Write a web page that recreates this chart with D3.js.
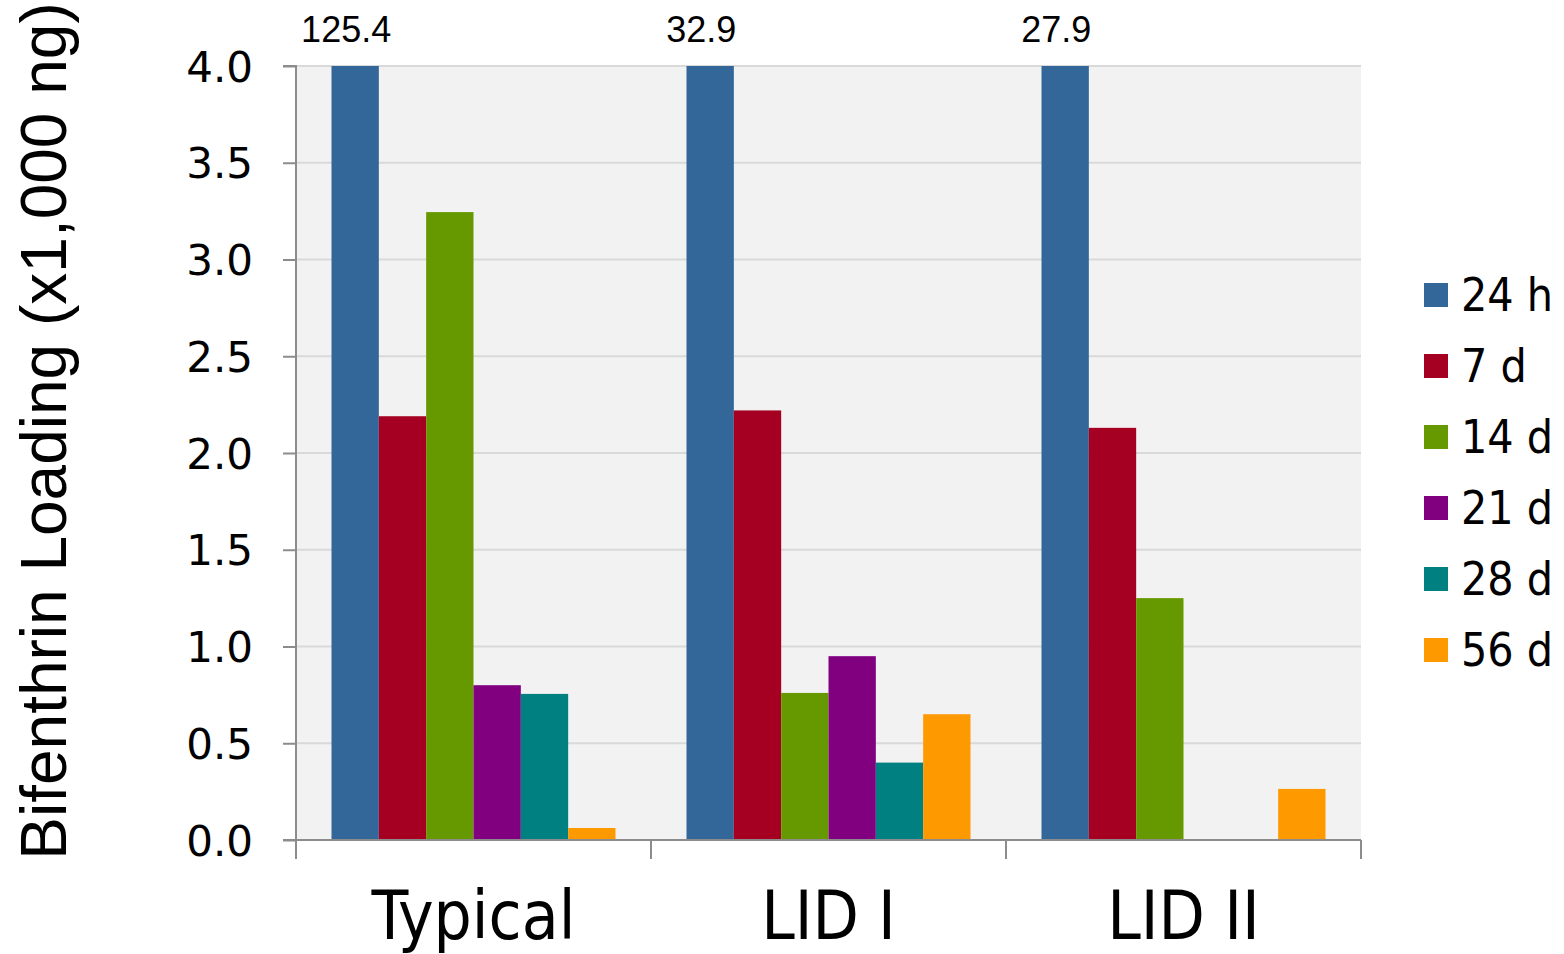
<!DOCTYPE html>
<html><head><meta charset="utf-8">
<script src="https://cdn.jsdelivr.net/npm/d3@7"></script>
<style>body{margin:0;background:#fff;}svg{display:block;}</style>
</head><body>
<svg id="chart" width="1564" height="954"></svg>
<script>
const categories = ["Typical", "LID I", "LID II"];
const series = ["24 h", "7 d", "14 d", "21 d", "28 d", "56 d"];
const colors = ["#336699", "#a50021", "#669900", "#800080", "#008080", "#ff9900"];
// values in x1,000 ng, per category, in series order (null = no bar)
const typicalValues = [125.4, 2.19, 3.245, 0.80, 0.755, 0.062];
const lid1Values   = [32.9, 2.22, 0.76, 0.95, 0.40, 0.65];
const lid2Values   = [27.9, 2.13, 1.25, null, null, 0.264];
const yTicks = [0, 0.5, 1, 1.5, 2, 2.5, 3, 3.5, 4];
const yMax = 4.0;
const yLabel = "Bifenthrin Loading (x1,000 ng)";

const values = [typicalValues, lid1Values, lid2Values];
const svg = d3.select("#chart");
const L = 296, R = 1361, T = 66, B = 840;

const x0 = d3.scaleBand().domain(categories).range([L, R]).paddingInner(0).paddingOuter(0);
const x1 = d3.scaleBand().domain(series).range([35.5, x0.bandwidth() - 35.5]).padding(0);
const y = d3.scaleLinear().domain([0, yMax]).range([B, T]);

// plot background
svg.append("rect").attr("x", L).attr("y", T).attr("width", R - L).attr("height", B - T).attr("fill", "#f2f2f2");
// gridlines
svg.append("g").selectAll("line").data(yTicks.filter(d => d > 0)).join("line")
  .attr("x1", L).attr("x2", R).attr("y1", d => y(d)).attr("y2", d => y(d))
  .attr("stroke", "#d9d9d9").attr("stroke-width", 2);

// bars
const groups = svg.append("g").selectAll("g").data(categories).join("g")
  .attr("transform", d => `translate(${x0(d)},0)`);
groups.each(function(cat, ci) {
  const g = d3.select(this);
  const data = series.map((s, si) => ({s, si, v: values[ci][si]})).filter(d => d.v != null);
  g.selectAll("rect").data(data).join("rect")
    .attr("x", d => x1(d.s)).attr("width", x1.bandwidth())
    .attr("y", d => y(Math.min(d.v, yMax))).attr("height", d => B - y(Math.min(d.v, yMax)))
    .attr("fill", d => colors[d.si]);
  // labels for clipped bars
  g.selectAll("text").data(data.filter(d => d.v > yMax)).join("text")
    .attr("x", d => x1(d.s) + x1.bandwidth() / 2 - 9).attr("y", 42)
    .attr("text-anchor", "middle")
    .attr("font-family", "'Liberation Sans', Arial, sans-serif").attr("font-size", 36)
    .attr("fill", "#000").text(d => d.v.toFixed(1));
});

// y axis
const yAxis = d3.axisLeft(y).tickValues(yTicks).tickFormat(d3.format(".1f")).tickSize(13).tickPadding(30);
const yg = svg.append("g").attr("transform", `translate(${L},0)`).call(yAxis);
yg.select(".domain").attr("stroke", "#8c8c8c").attr("stroke-width", 2).attr("d", `M-13,${T}H0V${B}`);
yg.selectAll(".tick line").attr("stroke", "#8c8c8c").attr("stroke-width", 2);
yg.selectAll(".tick text").attr("font-family", "'DejaVu Sans', sans-serif").attr("font-size", 42).attr("fill", "#000").attr("dy", "0.36em");

// x axis
const xg = svg.append("g").attr("transform", `translate(0,${B})`);
xg.append("line").attr("x1", L - 13).attr("x2", R).attr("y1", 0).attr("y2", 0).attr("stroke", "#8c8c8c").attr("stroke-width", 2);
const boundaries = categories.map(c => x0(c)).concat([R]);
xg.selectAll(".xt").data(boundaries).join("line").attr("class", "xt")
  .attr("x1", d => d).attr("x2", d => d).attr("y1", 0).attr("y2", 19)
  .attr("stroke", "#8c8c8c").attr("stroke-width", 2);
xg.selectAll(".xl").data(categories).join("text").attr("class", "xl")
  .attr("x", d => x0(d) + x0.bandwidth() / 2).attr("y", 99)
  .attr("text-anchor", "middle").attr("font-family", "'DejaVu Sans', sans-serif")
  .attr("font-stretch", "condensed").attr("font-size", 67).attr("fill", "#000").text(d => d);

// y label
svg.append("text").attr("transform", `translate(66,431) rotate(-90)`)
  .attr("text-anchor", "middle").attr("font-family", "'Liberation Sans', Arial, sans-serif")
  .attr("font-size", 64).attr("fill", "#000").text(yLabel);

// legend
const lg = svg.append("g").selectAll("g").data(series).join("g")
  .attr("transform", (d, i) => `translate(1424,${295 + i * 71})`);
lg.append("rect").attr("x", 0).attr("y", -12).attr("width", 24).attr("height", 24).attr("fill", (d, i) => colors[i]);
lg.append("text").attr("x", 37).attr("y", 16).attr("font-family", "'DejaVu Sans', sans-serif")
  .attr("font-stretch", "condensed").attr("font-size", 46).attr("fill", "#000").text(d => d);
</script>
</body></html>
